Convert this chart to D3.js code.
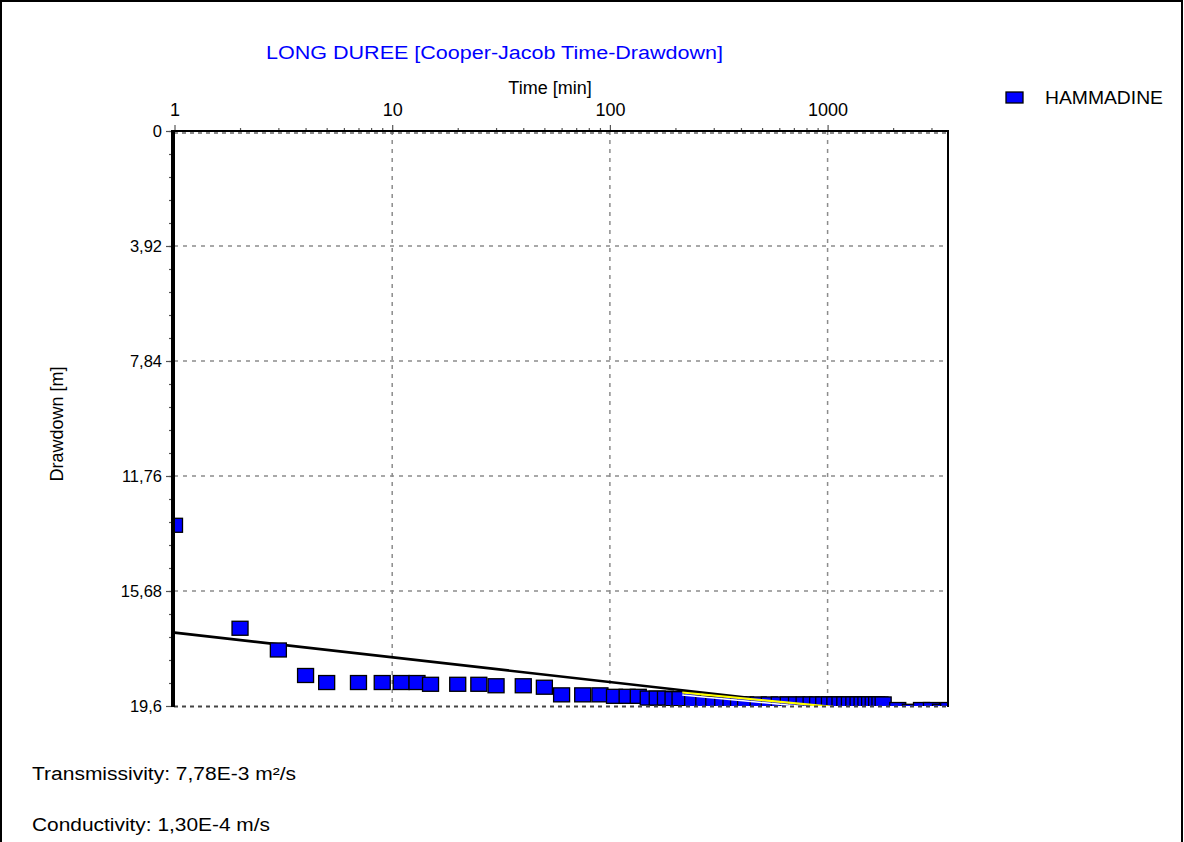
<!DOCTYPE html>
<html>
<head>
<meta charset="utf-8">
<script src="https://cdn.jsdelivr.net/npm/d3@7"></script>
<style>
  html, body { margin: 0; padding: 0; background: #fff; }
  svg { display: block; }
  text { font-family: "Liberation Sans", Arial, sans-serif; }
</style>
</head>
<body>
<svg id="chart" width="1184" height="842"></svg>
<script>
// Pumping test record: elapsed time (min) and drawdown (m)
const timeMin = [
  1, 2, 3, 4, 5, 7, 9, 11, 13, 15, 20, 25, 30, 40, 50,
  60, 75, 90, 105, 120, 135, 150, 165, 180, 195, 210, 240, 270, 300, 330,
  360, 390, 420, 480, 540, 600, 660, 720, 780, 840, 900, 960, 1020, 1080, 1140,
  1200, 1260, 1320, 1380, 1440, 1500, 1560, 1620, 1680, 1740, 1800,
  2100, 2400, 2700, 3000, 3300, 3600
];
const drawdownM = [
  13.44, 16.95, 17.69, 18.56, 18.80, 18.80, 18.80, 18.80, 18.80, 18.86, 18.86, 18.86, 18.91, 18.91, 18.96,
  19.22, 19.22, 19.22, 19.27, 19.27, 19.27, 19.33, 19.33, 19.33, 19.35, 19.35, 19.38, 19.50, 19.52, 19.52,
  19.53, 19.53, 19.53, 19.53, 19.53, 19.53, 19.53, 19.53, 19.53, 19.53, 19.53, 19.53, 19.53, 19.53, 19.53,
  19.53, 19.53, 19.53, 19.53, 19.53, 19.53, 19.53, 19.53, 19.53, 19.53, 19.53,
  19.72, 19.78, 19.72, 19.72, 19.78, 19.72
];

// Cooper-Jacob straight line (black) and late-time line (yellow), as end points
const fitTime = [1, 3600];
const fitDrawdown = [17.10, 20.09];
const lateTime = [215, 1060];
const lateDrawdown = [19.14, 19.63];

// Axis ticks
const xMajorTicks = [1, 10, 100, 1000];
const xMajorLabels = ["1", "10", "100", "1000"];
const xMinorTicks = [2,3,4,5,6,7,8,9,20,30,40,50,60,70,80,90,200,300,400,500,600,700,800,900,2000,3000];
const yMajorTicks = [0, 3.92, 7.84, 11.76, 15.68, 19.6];
const yMajorLabels = ["0", "3,92", "7,84", "11,76", "15,68", "19,6"];
const yMinorTicks = d3.range(0, 25).map(i => i * 0.784).filter(v => v <= 19.6 + 1e-9);

const titleText = "LONG DUREE [Cooper-Jacob Time-Drawdown]";
const seriesName = "HAMMADINE";
const resultLines = ["Transmissivity: 7,78E-3 m\u00B2/s", "Conductivity: 1,30E-4 m/s"];

const svg = d3.select("#chart");
const plot = { left: 174, top: 131, right: 948, bottom: 706 };
const FONT = 18;
const FAMILY = '"Liberation Sans", Arial, sans-serif';

const x = d3.scaleLog().domain([1, 3600]).range([174.5, 948.7]);
const y = d3.scaleLinear().domain([0, 19.6]).range([plot.top, plot.bottom]);

// set a text run to a given drawn width
function fitWidth(sel, w) {
  sel.attr("textLength", w).attr("lengthAdjust", "spacingAndGlyphs");
}

// outer frame
svg.append("rect")
  .attr("x", 1).attr("y", 1).attr("width", 1181).attr("height", 900)
  .attr("fill", "none").attr("stroke", "#000").attr("stroke-width", 2);

svg.append("defs").append("clipPath").attr("id", "plotClip")
  .append("rect")
  .attr("x", plot.left).attr("y", plot.top)
  .attr("width", plot.right - plot.left).attr("height", plot.bottom - plot.top);

// grid
const grid = svg.append("g");
grid.selectAll("line.gx").data(xMajorTicks.slice(1)).join("line")
  .attr("x1", d => x(d)).attr("x2", d => x(d))
  .attr("y1", plot.top).attr("y2", plot.bottom)
  .attr("stroke", "#8c8c8c").attr("stroke-width", 1.5).attr("stroke-dasharray", "4,5");
grid.selectAll("line.gy").data(yMajorTicks.slice(1, -1)).join("line")
  .attr("x1", plot.left).attr("x2", plot.right)
  .attr("y1", d => y(d)).attr("y2", d => y(d))
  .attr("stroke", "#8c8c8c").attr("stroke-width", 1.5).attr("stroke-dasharray", "4,5");

const inner = svg.append("g").attr("clip-path", "url(#plotClip)");

// Cooper-Jacob line
const line = d3.line().x(d => x(d[0])).y(d => y(d[1]));
inner.append("path")
  .datum(fitTime.map((t, i) => [t, fitDrawdown[i]]))
  .attr("d", line).attr("fill", "none")
  .attr("stroke", "#000").attr("stroke-width", 2.6);

// observations
const obs = timeMin.map((t, i) => ({ t, s: drawdownM[i] }));
const SQ_W = 16, SQ_H = 14;
inner.selectAll("rect.pt").data(obs).join("rect")
  .attr("class", "pt")
  .attr("x", d => x(d.t) - SQ_W / 2).attr("y", d => y(d.s) - SQ_H / 2)
  .attr("width", SQ_W).attr("height", SQ_H)
  .attr("fill", "#0000ff").attr("stroke", "#000").attr("stroke-width", 1.3);

// late-time line
const lateData = lateTime.map((t, i) => [t, lateDrawdown[i]]);
inner.append("path").datum(lateData)
  .attr("d", line).attr("fill", "none")
  .attr("stroke", "#fff").attr("stroke-width", 1.5)
  .attr("transform", "translate(0,2.5)");
inner.append("path").datum(lateData)
  .attr("d", line).attr("fill", "none")
  .attr("stroke", "#ffff00").attr("stroke-width", 2.2);

// bottom dashed line (last grid level) and right border
svg.append("line")
  .attr("x1", plot.left).attr("x2", plot.right)
  .attr("y1", plot.bottom + 0.5).attr("y2", plot.bottom + 0.5)
  .attr("stroke", "#444").attr("stroke-width", 2).attr("stroke-dasharray", "4,4");
svg.append("line")
  .attr("x1", plot.right).attr("x2", plot.right)
  .attr("y1", plot.top).attr("y2", plot.bottom + 1)
  .attr("stroke", "#000").attr("stroke-width", 2);

// top axis (time)
const xAxisMinor = d3.axisTop(x).tickValues(xMinorTicks).tickSize(3).tickFormat("");
const xAxisMajor = d3.axisTop(x).tickValues(xMajorTicks).tickSize(6)
  .tickFormat((d, i) => xMajorLabels[i]).tickPadding(9);
const gxMinor = svg.append("g").attr("transform", `translate(0,${plot.top})`).call(xAxisMinor);
const gxMajor = svg.append("g").attr("transform", `translate(0,${plot.top})`).call(xAxisMajor);
[gxMinor, gxMajor].forEach(g => {
  g.select(".domain").remove();
  g.selectAll(".tick line").attr("stroke", "#555").attr("stroke-width", 1.2);
});
gxMajor.selectAll(".tick text")
  .attr("font-size", FONT).attr("fill", "#000")
  .style("font-family", FAMILY);
// top border: solid black with the zero grid level dashed beneath
svg.append("line")
  .attr("x1", plot.left).attr("x2", plot.right + 1)
  .attr("y1", plot.top).attr("y2", plot.top)
  .attr("stroke", "#000").attr("stroke-width", 2);
svg.append("line")
  .attr("x1", plot.left).attr("x2", plot.right)
  .attr("y1", plot.top + 2).attr("y2", plot.top + 2)
  .attr("stroke", "#666").attr("stroke-width", 1.5).attr("stroke-dasharray", "4,4");

// left axis (drawdown)
const yAxisMinor = d3.axisLeft(y).tickValues(yMinorTicks).tickSize(5).tickFormat("");
const yAxisMajor = d3.axisLeft(y).tickValues(yMajorTicks).tickSize(8)
  .tickFormat((d, i) => yMajorLabels[i]).tickPadding(4);
const gyMinor = svg.append("g").attr("transform", `translate(${plot.left},0)`).call(yAxisMinor);
const gyMajor = svg.append("g").attr("transform", `translate(${plot.left},0)`).call(yAxisMajor);
[gyMinor, gyMajor].forEach(g => {
  g.select(".domain").remove();
  g.selectAll(".tick line").attr("stroke", "#555").attr("stroke-width", 1.2);
});
gyMajor.selectAll(".tick text")
  .attr("font-size", 16.5).attr("fill", "#000")
  .style("font-family", FAMILY);
svg.append("line")
  .attr("x1", 173).attr("x2", 173)
  .attr("y1", plot.top - 1).attr("y2", plot.bottom + 1)
  .attr("stroke", "#000").attr("stroke-width", 4);

// titles
svg.append("text")
  .attr("x", 266).attr("y", 59)
  .attr("font-size", FONT).attr("fill", "#0000ff")
  .text(titleText).call(fitWidth, 457);
svg.append("text")
  .attr("x", 550).attr("y", 94).attr("text-anchor", "middle")
  .attr("font-size", FONT).attr("fill", "#000")
  .text("Time [min]");
svg.append("text")
  .attr("transform", "translate(63,424) rotate(-90)")
  .attr("text-anchor", "middle")
  .attr("font-size", FONT).attr("fill", "#000")
  .text("Drawdown [m]");

// legend
const legend = svg.append("g");
legend.append("rect")
  .attr("x", 1006).attr("y", 92).attr("width", 17).attr("height", 11)
  .attr("fill", "#0000ff").attr("stroke", "#000").attr("stroke-width", 1.3);
legend.append("text")
  .attr("x", 1045).attr("y", 104)
  .attr("font-size", FONT).attr("fill", "#000")
  .text(seriesName).call(fitWidth, 118);

// results
const resultWidths = [264, 238];
svg.selectAll("text.result").data(resultLines).join("text")
  .attr("class", "result")
  .attr("x", 32).attr("y", (d, i) => 780 + i * 51)
  .attr("font-size", FONT).attr("fill", "#000")
  .text(d => d)
  .attr("textLength", (d, i) => resultWidths[i])
  .attr("lengthAdjust", "spacingAndGlyphs");
</script>
</body>
</html>
